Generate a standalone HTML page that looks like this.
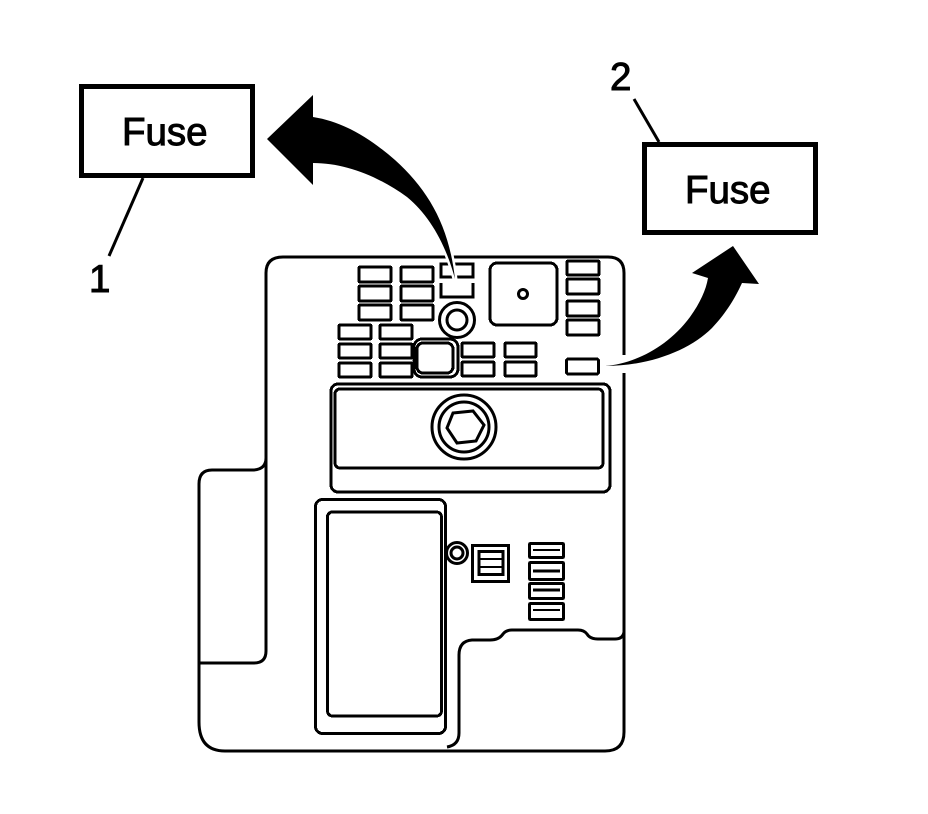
<!DOCTYPE html>
<html><head><meta charset="utf-8"><style>
html,body{margin:0;padding:0;background:#fff;width:928px;height:814px;overflow:hidden}
svg{display:block}
text{font-family:"Liberation Sans",sans-serif;font-size:38.500px;fill:#000;stroke:#000;stroke-width:1}
</style></head><body>
<svg width="928" height="814" viewBox="0 0 928 814" fill="none" stroke="#000" stroke-width="3" shape-rendering="crispEdges">
<!-- outline -->
<path d="M199 663H254Q266 663 266 651V273Q266 257 283 257H608Q624 257 624 273V355M624 373V732Q624 751 605 751H225Q199 751 199 722V484Q199 470 212 470H254Q266 469 266 458" shape-rendering="auto"/>
<path d="M447 747Q459 745 459 733V655Q459 641 472 640H490Q499 640 503 634Q506 630 512 630H578Q584 630 587 634Q590 639 598 639H615Q623 639 624 632" shape-rendering="auto"/>
<!-- top-left fuses -->
<g stroke-width="3">
<rect x="359" y="267" width="32" height="15" rx="1"/><rect x="359" y="286" width="32" height="15" rx="1"/><rect x="359" y="305" width="32" height="15" rx="1"/>
<rect x="401" y="267" width="32" height="15" rx="1"/><rect x="401" y="286" width="32" height="15" rx="1"/><rect x="401" y="305" width="32" height="15" rx="1"/>
<path d="M441 264H473V277H441ZM441 283V297H473V283"/>
<rect x="490" y="263" width="67" height="62" rx="7"/>
<circle cx="523" cy="294" r="4.500" shape-rendering="auto"/>
<rect x="567" y="261" width="32" height="14" rx="1"/><rect x="567" y="279" width="32" height="15" rx="1"/><rect x="567" y="301" width="32" height="15" rx="1"/><rect x="567" y="320" width="32" height="15" rx="1"/>
<circle cx="457" cy="320" r="17.500" shape-rendering="auto"/><circle cx="457" cy="320" r="10" shape-rendering="auto"/>
<rect x="339" y="325" width="32" height="14" rx="1"/><rect x="339" y="344" width="32" height="14" rx="1"/><rect x="339" y="363" width="32" height="14" rx="1"/>
<rect x="380" y="325" width="32" height="14" rx="1"/><rect x="380" y="344" width="32" height="14" rx="1"/><rect x="380" y="363" width="32" height="14" rx="1"/>
<rect x="414" y="339" width="44" height="38" rx="8"/><rect x="417" y="343" width="36" height="30" rx="6"/>
<rect x="462" y="343" width="32" height="14" rx="1"/><rect x="462" y="362" width="32" height="14" rx="1"/>
<rect x="505" y="343" width="31" height="14" rx="1"/><rect x="505" y="362" width="31" height="14" rx="1"/>
<rect x="566.500" y="359" width="32" height="15" rx="2"/>
</g>
<!-- wide panel -->
<rect x="331" y="384" width="279" height="108" rx="7"/>
<rect x="335" y="389" width="268" height="79" rx="5"/>
<circle cx="464" cy="427" r="32" shape-rendering="auto"/><circle cx="464" cy="427" r="25" shape-rendering="auto"/>
<polygon points="453,413 473,411 484,425 476,441 457,443 447,428" shape-rendering="auto"/>
<!-- tall panel -->
<rect x="315.500" y="499.500" width="130" height="234" rx="7"/>
<rect x="327.500" y="512" width="114" height="204" rx="5"/>
<circle cx="457" cy="553" r="10.500" shape-rendering="auto"/><circle cx="457" cy="553" r="6" shape-rendering="auto"/>
<rect x="472.500" y="545.500" width="36" height="36"/>
<rect x="479" y="551.500" width="24" height="23"/>
<path d="M479 559H503M479 567H503" stroke-width="2"/>
<!-- slots -->
<g>
<rect x="529.500" y="543.500" width="34" height="14" rx="1"/><rect x="529.500" y="562.500" width="34" height="17" rx="1"/><rect x="529.500" y="583.500" width="34" height="15" rx="1"/><rect x="529.500" y="603.500" width="34" height="16" rx="1"/>
<path d="M533 550H560M533 610H560" stroke-width="2"/>
<path d="M533 571H560M533 590H560" stroke-width="3"/>
</g>
<!-- boxes -->
<rect x="81.500" y="86.500" width="171" height="89" stroke-width="5"/>
<rect x="644.500" y="144.500" width="171" height="88" stroke-width="5"/>
<path d="M143 178L109 256" shape-rendering="auto"/>
<path d="M634 99L659 142" shape-rendering="auto"/>
<!-- arrows -->
<path d="M455 279C449 225 428 190 395 160C372 140 345 122 313 117V95L267 139L313 185V163C345 163 378 176 407 197C430 216 446 245 455 279Z" fill="#fff" stroke="#fff" stroke-width="5" shape-rendering="auto"/>
<path d="M455 279C449 225 428 190 395 160C372 140 345 122 313 117V95L267 139L313 185V163C345 163 378 176 407 197C430 216 446 245 455 279Z" fill="#000" stroke="none" shape-rendering="auto"/>
<path d="M605 366C633 364 667 348 690 317C700 303 706 290 708 278L692 273L733 246L759 284L742 283C735 298 727 312 712 328C690 350 650 366 605 366Z" fill="#000" stroke="none" shape-rendering="auto"/>
<text x="122" y="145">Fuse</text>
<text x="685" y="203">Fuse</text>
<text x="89" y="292">1</text>
<text x="610" y="90">2</text>
</svg>
</body></html>
